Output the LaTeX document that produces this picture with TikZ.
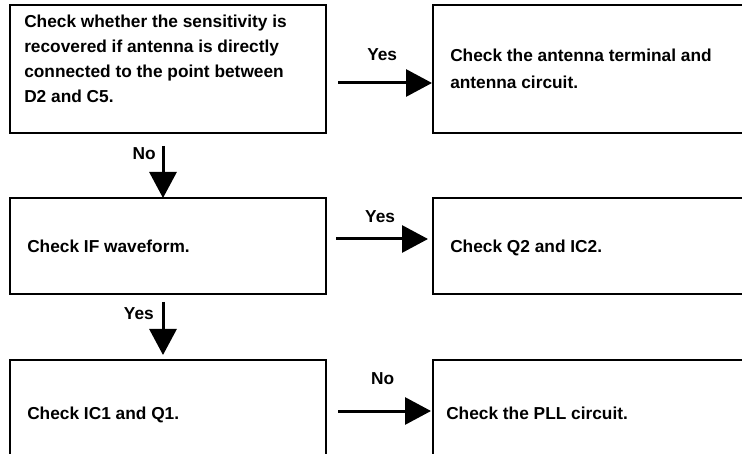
\documentclass[tikz,border=0pt]{standalone}
\usepackage{fontspec}
\setmainfont{Liberation Sans}
\usepackage{tikz}
\usetikzlibrary{arrows.meta}

\begin{document}
\begin{tikzpicture}[x=1pt, y=-1pt, line width=2.5pt,
    font=\fontsize{17.3}{25}\selectfont\bfseries,
    box/.style={draw, rectangle, anchor=north west, outer sep=0pt, inner sep=0pt},
    lbl/.style={inner sep=0pt, align=left},
    flow/.style={line width=3pt, -{Triangle[length=26pt,width=27pt]}}]

    % --- 1. canvas (boxes run past the right and bottom edge) ---
    \path[use as bounding box, clip] (0,0) rectangle (742,454);

    % --- 2. boxes ---
    % left column: checks, right column: results
    \node[box, minimum width=316pt, minimum height=128pt] (q1) at (10,5) {};
    \node[box, minimum width=340pt, minimum height=128pt] (a1) at (433,5) {};
    \node[box, minimum width=316pt, minimum height=96pt] (q2) at (10,198) {};
    \node[box, minimum width=340pt, minimum height=96pt] (a2) at (433,198) {};
    \node[box, minimum width=316pt, minimum height=110pt] (q3) at (10,360) {};
    \node[box, minimum width=340pt, minimum height=110pt] (a3) at (433,360) {};

    % --- 3. texts ---
    \node[lbl, anchor=north west] (q1t) at (23,13.5) {Check whether the sensitivity is\\
        recovered if antenna is directly\\
        connected to the point between\\
        D2 and C5.};
    \node[lbl, anchor=north west, font=\fontsize{17.3}{27}\selectfont\bfseries] (a1t) at (449,47.5)
        {Check the antenna terminal and\\antenna circuit.};
    \node[lbl, anchor=base west] (q2t) at (26,253) {Check IF waveform.};
    \node[lbl, anchor=base west] (a2t) at (449,253) {Check Q2 and IC2.};
    \node[lbl, anchor=base west] (q3t) at (26,420) {Check IC1 and Q1.};
    \node[lbl, anchor=base west] (a3t) at (445,420) {Check the PLL circuit.};

    % --- 4. arrows ---
    \draw[flow] ([xshift=12pt,yshift=-14pt]q1.east) -- node[lbl, pos=0.47, yshift=28pt] (y1) {Yes}
        ([xshift=-1pt,yshift=-14pt]a1.west);
    \draw[flow] ([xshift=10pt,yshift=7pt]q2.east) -- node[lbl, pos=0.48, yshift=22pt] (y2) {Yes}
        ([xshift=-5pt,yshift=7pt]a2.west);
    \draw[flow] ([xshift=12pt,yshift=4pt]q3.east) -- node[lbl, pos=0.48, yshift=32pt] (n2) {No}
        ([xshift=-2pt,yshift=4pt]a3.west);

    % downward ones, label left of the shaft
    \draw[flow] ([xshift=-5pt,yshift=-13pt]q1.south) -- ([xshift=-5pt]q2.north);
    \node[lbl, anchor=north east] (n1) at ([xshift=-11pt,yshift=-13pt]q1.south) {No};
    \draw[flow] ([xshift=-5pt,yshift=-8pt]q2.south) -- ([xshift=-5pt,yshift=5pt]q3.north);
    \node[lbl, anchor=north east] (y3) at ([xshift=-13pt,yshift=-12pt]q2.south) {Yes};

\end{tikzpicture}
\end{document}
